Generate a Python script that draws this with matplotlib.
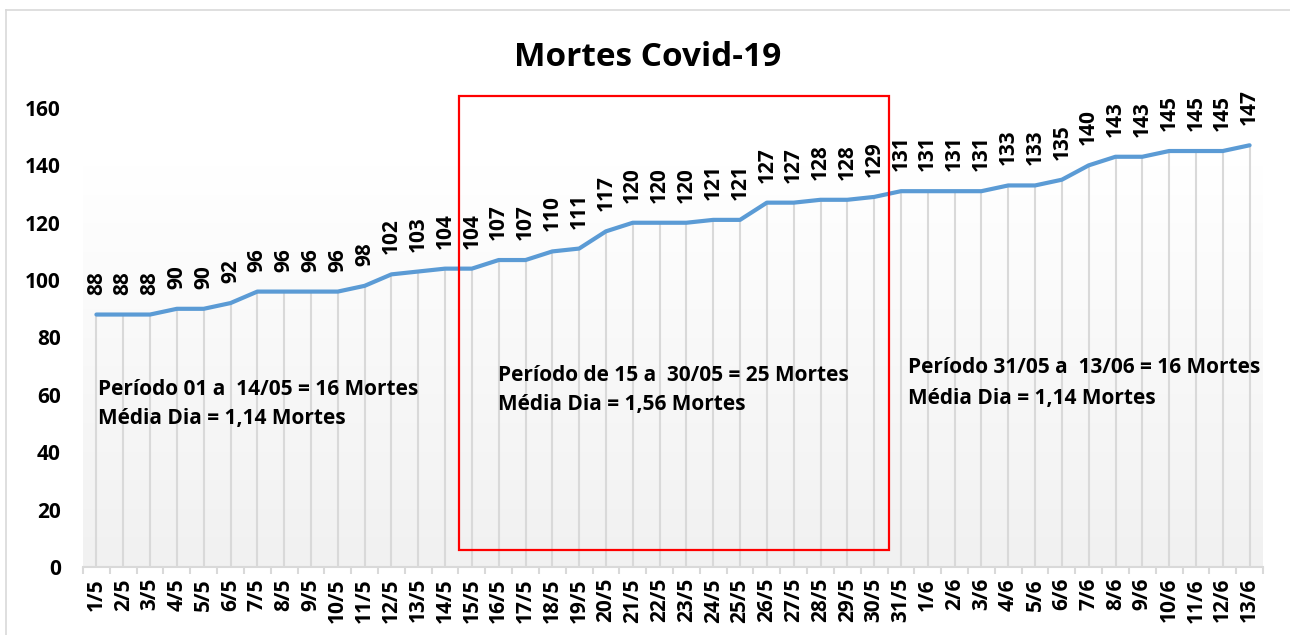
import numpy as np
import matplotlib.pyplot as plt
from matplotlib.patches import Rectangle
from matplotlib.lines import Line2D
from matplotlib.colors import LinearSegmentedColormap

plt.rcParams['font.family'] = ['Open Sans', 'DejaVu Sans']
plt.rcParams['font.weight'] = 'bold'

# dados
datas = ['1/5', '2/5', '3/5', '4/5', '5/5', '6/5', '7/5', '8/5', '9/5', '10/5',
         '11/5', '12/5', '13/5', '14/5', '15/5', '16/5', '17/5', '18/5', '19/5', '20/5',
         '21/5', '22/5', '23/5', '24/5', '25/5', '26/5', '27/5', '28/5', '29/5', '30/5',
         '31/5', '1/6', '2/6', '3/6', '4/6', '5/6', '6/6', '7/6', '8/6', '9/6',
         '10/6', '11/6', '12/6', '13/6']
mortes = [88, 88, 88, 90, 90, 92, 96, 96, 96, 96,
          98, 102, 103, 104, 104, 107, 107, 110, 111, 117,
          120, 120, 120, 121, 121, 127, 127, 128, 128, 129,
          131, 131, 131, 131, 133, 133, 135, 140, 143, 143,
          145, 145, 145, 147]

notas_esq = ['Período 01 a  14/05 = 16 Mortes', 'Média Dia = 1,14 Mortes']
notas_meio = ['Período de 15 a  30/05 = 25 Mortes', 'Média Dia = 1,56 Mortes']
notas_dir = ['Período 31/05 a  13/06 = 16 Mortes', 'Média Dia = 1,14 Mortes']

x = np.arange(len(datas))
fs = 15

fig = plt.figure(figsize=(12.9, 6.35), dpi=100)
ax = fig.add_axes([83 / 1290, 68 / 635, 1180 / 1290, 487.7 / 635])
ax.set_xlim(-0.5, len(datas) - 0.5)
ax.set_ylim(0, 170)

# fundo degradê
grad = np.linspace(0, 1, 256).reshape(-1, 1)
ax.imshow(grad, extent=(-0.5, len(datas) - 0.5, 0, 140), origin='lower',
          cmap=LinearSegmentedColormap.from_list('g', ['#f1f1f1', '#ffffff']),
          aspect='auto', zorder=0)

# linhas de queda
ax.vlines(x, 0, mortes, color='#d9d9d9', lw=1.5, zorder=1)
ax.plot(x, mortes, color='#5b9bd5', lw=3, zorder=3, solid_capstyle='round')

for xi, v in zip(x, mortes):
    ax.annotate(str(v), (xi, v), xytext=(0, 20), textcoords='offset pixels',
                rotation=90, ha='center', va='bottom', fontsize=fs, fontweight='bold')

for s in ['top', 'right', 'left']:
    ax.spines[s].set_visible(False)
ax.spines['bottom'].set_color('#d9d9d9')
ax.spines['bottom'].set_linewidth(1.5)

ax.set_yticks(range(0, 161, 20))
ax.tick_params(axis='y', length=0, pad=16, labelsize=fs)
ax.set_xticks(x)
ax.set_xticklabels(datas, rotation=90, fontsize=fs, fontweight='bold')
ax.set_xticks(np.arange(-0.5, len(datas), 1), minor=True)
ax.tick_params(axis='x', which='major', length=0, pad=8)
ax.tick_params(axis='x', which='minor', length=5, width=1.5, color='#d9d9d9')
for lab in ax.get_yticklabels():
    lab.set_fontweight('bold')

fig.text(648 / 1290, 1 - 57 / 635, 'Mortes Covid-19', ha='center', va='center',
         fontsize=24, fontweight='bold')

# retângulo vermelho
ax.add_patch(Rectangle((13.53, 5.9), 16.04, 158.2, fill=False, ec='red', lw=1.6,
                       zorder=4, clip_on=False))

for notas, xx, ys in [(notas_esq, 0.06, (61.7, 51.6)),
                      (notas_meio, 14.97, (66.9, 56.8)),
                      (notas_dir, 30.26, (69.4, 58.9))]:
    for t, yy in zip(notas, ys):
        ax.text(xx, yy, t, ha='left', va='center', fontsize=fs, fontweight='bold', zorder=5)

# moldura
fig.add_artist(Line2D([6 / 1290, 6 / 1290], [0, 1 - 10 / 635], color='#d9d9d9', lw=1.2))
fig.add_artist(Line2D([6 / 1290, 1], [1 - 10 / 635, 1 - 10 / 635], color='#d9d9d9', lw=1.2))

fig.savefig('out.png', dpi=100)
